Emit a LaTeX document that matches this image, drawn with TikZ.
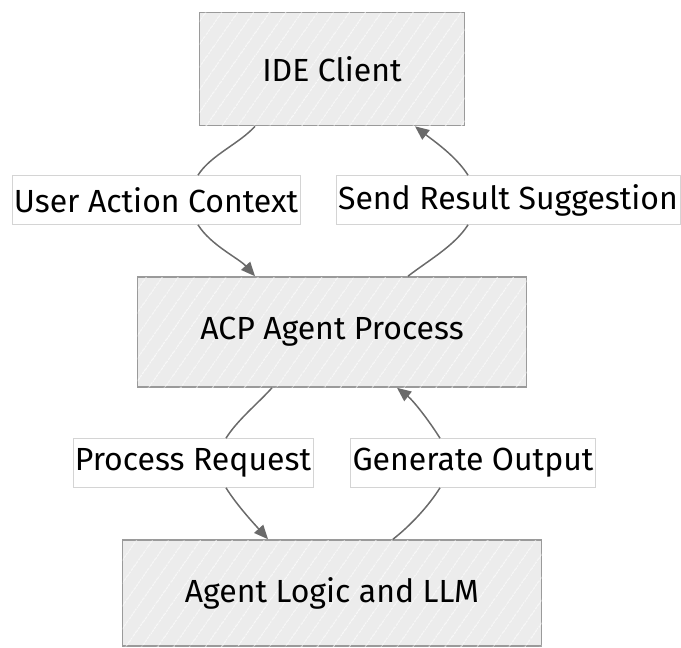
\documentclass[tikz,border=0pt]{standalone}
\usepackage{fontspec}
\setmainfont{Fira Sans}
\usetikzlibrary{arrows.meta,patterns.meta}

\definecolor{boxfill}{HTML}{ECECEC}
\definecolor{boxline}{HTML}{9A9A9A}
\definecolor{edgeline}{HTML}{6A6A6A}
\definecolor{lblline}{HTML}{D4D4D4}

\begin{document}
\begin{tikzpicture}[x=1pt,y=1pt,
  stage/.style={draw=boxline,line width=1.6pt,fill=boxfill,
    postaction={pattern={Lines[angle=55,distance=13pt,line width=0.7pt]},pattern color=white},
    inner sep=0pt,font=\fontsize{32}{38}\selectfont},
  edgelbl/.style={draw=lblline,line width=0.6pt,fill=white,inner xsep=2pt,inner ysep=0pt,
    minimum height=49pt,font=\fontsize{32}{38}\selectfont},
  flow/.style={draw=edgeline,line width=1.5pt,looseness=0.8},
  flowtip/.style={flow,-{Triangle[length=14pt,width=12pt]}}]
  \useasboundingbox (0,0) rectangle (681,-648);

  %% boxes
  \node[stage,minimum width=265pt,minimum height=113pt] (ide) at (332,-69) {IDE Client};
  \node[stage,minimum width=389pt,minimum height=110pt] (acp) at (332,-332) {ACP Agent Process};
  \node[stage,minimum width=419pt,minimum height=106pt] (agent) at (332,-593) {Agent Logic and LLM};

  %% edge labels
  \node[edgelbl] (lctx) at (156,-200) {User Action Context};
  \node[edgelbl] (lres) at (508,-200) {Send Result Suggestion};
  \node[edgelbl] (lreq) at (193,-463) {Process Request};
  \node[edgelbl] (lout) at (473,-463) {Generate Output};

  %% upper loop
  \draw[flow] ([xshift=-77pt]ide.south) to[out=-132,in=58] ([xshift=42pt]lctx.north);
  \draw[flowtip] ([xshift=42pt]lctx.south) to[out=-58,in=132] ([xshift=-77pt]acp.north);
  \draw[flow] ([xshift=76pt]acp.north) to[out=38,in=-122] ([xshift=-40pt]lres.south);
  \draw[flowtip] ([xshift=-40pt]lres.north) to[out=122,in=-38] ([xshift=83pt]ide.south);

  %% lower loop
  \draw[flow] ([xshift=-60pt]acp.south) to[out=-132,in=58] ([xshift=33pt]lreq.north);
  \draw[flowtip] ([xshift=33pt]lreq.south) to[out=-58,in=132] ([xshift=-64pt]agent.north);
  \draw[flow] ([xshift=61pt]agent.north) to[out=38,in=-122] ([xshift=-33pt]lout.south);
  \draw[flowtip] ([xshift=-33pt]lout.north) to[out=122,in=-38] ([xshift=65pt]acp.south);
\end{tikzpicture}
\end{document}
